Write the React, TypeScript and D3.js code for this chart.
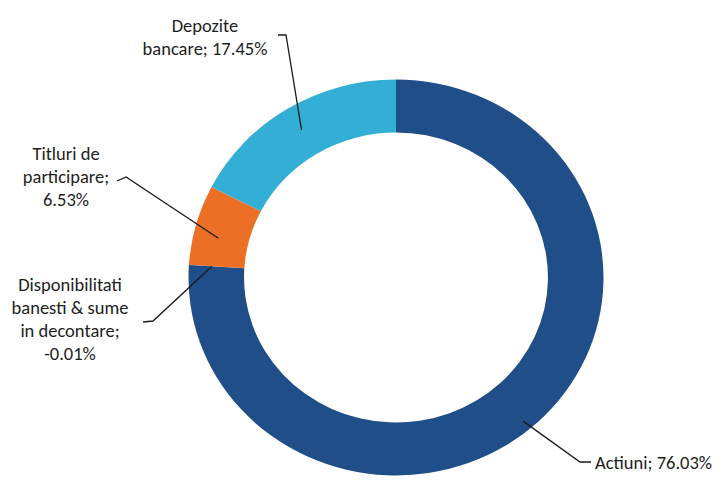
import React from 'react';
import * as d3 from 'd3';

const categories = ['Actiuni', 'Disponibilitati banesti & sume in decontare', 'Titluri de participare', 'Depozite bancare'];
const values = [76.03, -0.01, 6.53, 17.45];
const sliceColors = ['#1F4E89', '#1F4E89', '#EB6F24', '#33AED5'];
const labelLines = [
  ['Actiuni; 76.03%'],
  ['Disponibilitati', 'banesti & sume', 'in decontare;', '-0.01%'],
  ['Titluri de', 'participare;', '6.53%'],
  ['Depozite', 'bancare; 17.45%'],
];

// label layout (annotation positions)
const labelLayout = [
  { x: 595, y: 469, anchor: 'start', start: [591, 462], elbow: [580, 462], r: 188, da: 3 },
  { x: 70, y: 291, anchor: 'middle', start: [143, 322], elbow: [153, 321], r: 176, da: 0 },
  { x: 66, y: 160, anchor: 'middle', start: [117, 181], elbow: [126, 177], r: 174, da: -2.4 },
  { x: 205, y: 32, anchor: 'middle', start: [278, 35], elbow: [286, 35], r: 173, da: 0 },
];

const W = 724;
const H = 491;
const cx = 396;
const cy = 277.5;
const sx = 1.048;
const outerR = 198;
const innerR = 145;
const lineH = 23;

export default function App() {
  const data = categories.map((c, i) => ({ c, v: values[i], i }));
  const pie = d3.pie<any>().sort(null).value((d) => Math.abs(d.v)).startAngle(0).endAngle(2 * Math.PI);
  const arcs = pie(data);
  const arc = d3.arc<any>().innerRadius(innerR).outerRadius(outerR);

  const ringPoint = (a: any, r: number, da: number) => {
    const ang = (a.startAngle + a.endAngle) / 2 + (da * Math.PI) / 180;
    return [cx + r * Math.sin(ang) * sx, cy - r * Math.cos(ang)];
  };

  return (
    <svg width={W} height={H} style={{ position: 'absolute', left: 0, top: 0, background: '#fff' }}>
      <g transform={`translate(${cx},${cy}) scale(${sx},1)`}>
        {arcs.map((a, i) => (
          <path key={i} d={arc(a) || ''} fill={sliceColors[i]} />
        ))}
      </g>
      {arcs.map((a, i) => {
        const L = labelLayout[i];
        const p = ringPoint(a, L.r, L.da);
        const pts = [L.start, L.elbow, p];
        return (
          <g key={'l' + i}>
            <path d={d3.line()(pts as any) || ''} fill="none" stroke="#1a1a1a" strokeWidth={1.3} />
            <text
              x={L.x}
              y={L.y}
              textAnchor={L.anchor as any}
              fontFamily="Carlito, Calibri, Lato, sans-serif"
              fontSize={18.5}
              fill="#1e1e1e"
            >
              {labelLines[i].map((t, j) => (
                <tspan key={j} x={L.x} y={L.y + j * lineH}>
                  {t}
                </tspan>
              ))}
            </text>
          </g>
        );
      })}
    </svg>
  );
}
